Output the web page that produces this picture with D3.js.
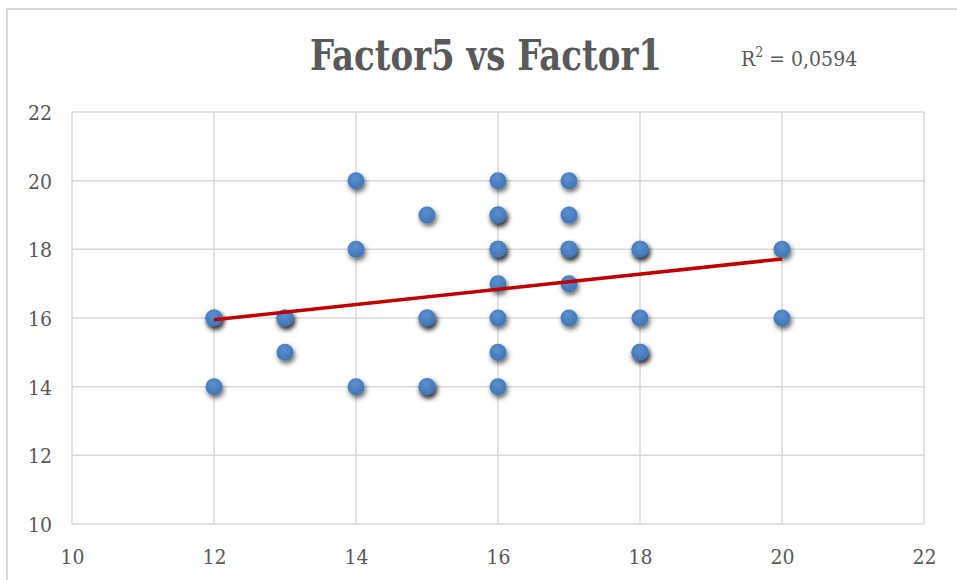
<!DOCTYPE html>
<html>
<head>
<meta charset="utf-8">
<script src="https://cdn.jsdelivr.net/npm/d3@7/dist/d3.min.js"></script>
<style>
  body { margin: 0; background: #fff; }
  svg { display: block; }
</style>
</head>
<body>
<svg id="viz_svg01" width="957" height="580"></svg>
<script>
// Factor1 (x) and Factor5 (y) values, repeats included.
const factor1 = [12, 12, 12, 13, 13, 13, 14, 14, 14, 15, 15, 15, 15, 15,
                 16, 16, 16, 16, 16, 16, 16, 16, 16, 17, 17, 17, 17, 17, 17,
                 18, 18, 18, 18, 18, 20, 20];
const factor5 = [16, 16, 14, 16, 16, 15, 20, 18, 14, 19, 16, 16, 14, 14,
                 20, 19, 19, 18, 18, 17, 16, 15, 14, 20, 19, 18, 18, 17, 16,
                 18, 18, 16, 15, 15, 18, 16];
// Linear trendline ends.
const trendX = [12, 20];
const trendY = [15.95, 17.72];
const tickValues = [10, 12, 14, 16, 18, 20, 22];
const titleText = "Factor5 vs Factor1";
const r2Text = "0,0594";

// Layout of the plot area.
const plotLeft = 72, plotRight = 924, plotTop = 112, plotBottom = 524;
const textColor = "#595959";
const gridColor = "#d9d9d9";
const labelFont = "'DejaVu Serif Condensed', 'DejaVu Serif', serif";

const svg = d3.select("#viz_svg01");

const scaleX = d3.scaleLinear().domain([10, 22]).range([plotLeft, plotRight]);
const scaleY = d3.scaleLinear().domain([10, 22]).range([plotBottom, plotTop]);

// Drop shadow for the markers.
const defs = svg.append("defs");
const shadow = defs.append("filter").attr("id", "shadow")
    .attr("x", "-60%").attr("y", "-60%").attr("width", "220%").attr("height", "220%");
shadow.append("feDropShadow")
    .attr("dx", 1.5).attr("dy", 3).attr("stdDeviation", 2.5)
    .attr("flood-color", "#000").attr("flood-opacity", 0.6);
const grad = defs.append("radialGradient").attr("id", "dotFill")
    .attr("cx", "45%").attr("cy", "35%").attr("r", "65%");
grad.append("stop").attr("offset", "0%").attr("stop-color", "#5b8fd0");
grad.append("stop").attr("offset", "100%").attr("stop-color", "#3f74b5");

// Chart frame.
svg.append("rect")
    .attr("x", 7).attr("y", 9)
    .attr("width", 990).attr("height", 620)
    .style("fill", "#fff")
    .style("stroke", gridColor)
    .style("stroke-width", 2);

// Gridlines.
const grid = svg.append("g").attr("id", "grid");
grid.selectAll(".vgrid")
    .data(tickValues)
    .join("line")
    .attr("class", "vgrid")
    .attr("x1", d => scaleX(d)).attr("x2", d => scaleX(d))
    .attr("y1", plotTop).attr("y2", plotBottom)
    .style("stroke", gridColor).style("stroke-width", 1.5);
grid.selectAll(".hgrid")
    .data(tickValues)
    .join("line")
    .attr("class", "hgrid")
    .attr("x1", plotLeft).attr("x2", plotRight)
    .attr("y1", d => scaleY(d)).attr("y2", d => scaleY(d))
    .style("stroke", gridColor).style("stroke-width", 1.5);

// Axes (labels only, lines handled by grid).
const yAxis = svg.append("g")
    .attr("transform", `translate(${plotLeft - 20}, 0)`)
    .call(d3.axisLeft(scaleY).tickValues(tickValues).tickSize(0).tickPadding(0));
const xAxis = svg.append("g")
    .attr("transform", `translate(0, ${plotBottom + 24})`)
    .call(d3.axisBottom(scaleX).tickValues(tickValues).tickSize(0).tickPadding(0));
[xAxis, yAxis].forEach(ax => {
    ax.select(".domain").remove();
    ax.selectAll("text")
        .style("font-family", labelFont)
        .style("font-size", "21px")
        .style("fill", textColor);
});
yAxis.selectAll("text").attr("dy", "0.36em");
xAxis.selectAll("text").attr("dy", "0.78em");

// Data points.
const points = factor1.map((x, i) => ({x: x, y: factor5[i]}));
svg.append("g").attr("id", "points")
    .selectAll("circle")
    .data(points)
    .join("circle")
    .attr("cx", d => scaleX(d.x))
    .attr("cy", d => scaleY(d.y))
    .attr("r", 8.5)
    .style("fill", "url(#dotFill)")
    .style("filter", "url(#shadow)");

// Trendline.
const trend = trendX.map((x, i) => ({x: x, y: trendY[i]}));
svg.append("path")
    .datum(trend)
    .attr("d", d3.line().x(d => scaleX(d.x)).y(d => scaleY(d.y)))
    .style("fill", "none")
    .style("stroke", "#c00000")
    .style("stroke-width", 3.5);

// Title.
svg.append("text")
    .attr("x", 310).attr("y", 70)
    .attr("textLength", 352)
    .attr("lengthAdjust", "spacingAndGlyphs")
    .text(titleText)
    .style("font-family", labelFont)
    .style("font-weight", "bold")
    .style("font-size", "42px")
    .style("fill", textColor);

// R squared label.
const r2 = svg.append("text")
    .attr("x", 741).attr("y", 66)
    .style("font-family", labelFont)
    .style("font-size", "21px")
    .style("fill", textColor);
r2.append("tspan").text("R");
r2.append("tspan").attr("dy", -9).style("font-size", "14px").text("2");
r2.append("tspan").attr("dy", 9).text(" = " + r2Text);
</script>
</body>
</html>
